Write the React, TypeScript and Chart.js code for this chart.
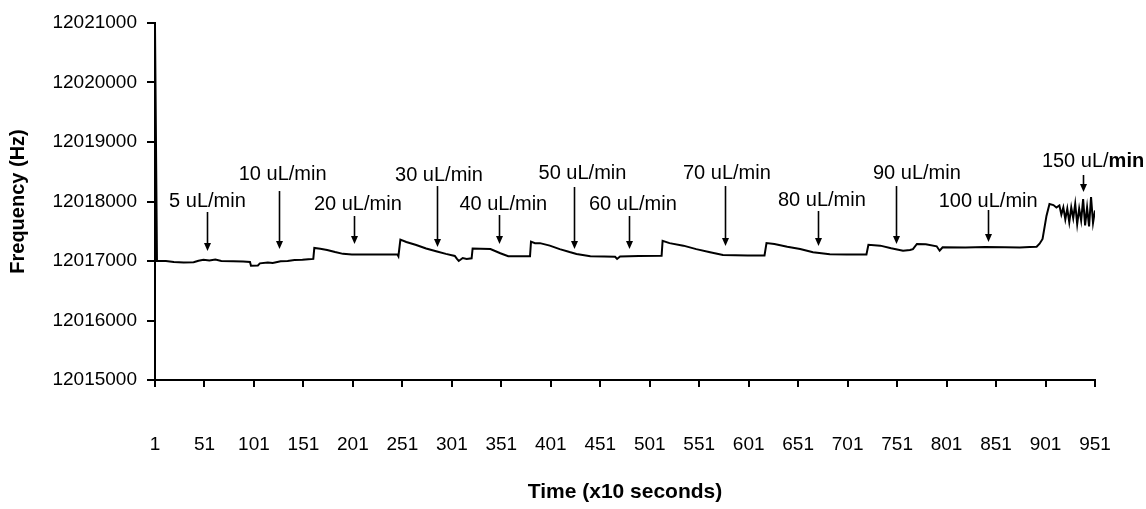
import React, { useEffect, useRef } from "react";
import { Chart, registerables } from "chart.js";

Chart.register(...registerables);

// Time (x10 s) samples
const timeX = [
  1, 3, 12, 20, 30, 40, 45, 50, 56, 62, 68, 80, 90, 97, 98, 105, 107, 115, 120, 128,
  135, 142, 150, 156, 161, 162, 168, 175, 183, 191, 200, 220, 246, 247, 249, 255, 265, 275, 286, 295,
  304, 306, 308, 312, 316, 321, 322, 330, 340, 350, 358, 370, 380, 381, 385, 390, 400, 410, 420, 427,
  441, 455, 466, 468, 471, 490, 513, 514, 521, 535, 548, 562, 575, 600, 617, 619, 627, 640, 653, 666,
  683, 700, 720, 722, 734, 745, 757, 764, 767, 771, 780, 791, 794, 797, 820, 840, 860, 875, 885, 892,
  895, 898, 902, 905, 909, 912, 915, 917, 919, 921, 923, 925, 927, 929, 931, 933, 935, 937, 939, 941,
  943, 945, 947, 949, 951,
];

// Frequency (Hz) values
const freqY = [
  12020950, 12017000, 12017000, 12016985, 12016975, 12016980, 12017005, 12017020, 12017010, 12017025,
  12017000, 12016995, 12016990, 12016985, 12016920, 12016925, 12016960, 12016975, 12016965, 12016995,
  12017000, 12017015, 12017020, 12017030, 12017035, 12017220, 12017205, 12017185, 12017150, 12017120,
  12017110, 12017110, 12017110, 12017080, 12017360, 12017320, 12017270, 12017210, 12017160, 12017120,
  12017085, 12017040, 12017000, 12017050, 12017035, 12017045, 12017210, 12017205, 12017200, 12017130,
  12017080, 12017080, 12017080, 12017325, 12017300, 12017300, 12017258, 12017200, 12017150, 12017118,
  12017080, 12017075, 12017070, 12017035, 12017075, 12017085, 12017090, 12017340, 12017300, 12017258,
  12017200, 12017146, 12017100, 12017092, 12017092, 12017302, 12017285, 12017240, 12017200, 12017146,
  12017112, 12017110, 12017110, 12017274, 12017258, 12017215, 12017173, 12017185, 12017200, 12017286,
  12017280, 12017247, 12017173, 12017230, 12017225, 12017235, 12017230, 12017225, 12017235, 12017240,
  12017290, 12017370, 12017762, 12017958, 12017940, 12017900, 12017935, 12017780, 12017900, 12017700,
  12017880, 12017650, 12017900, 12017720, 12017960, 12017620, 12017880, 12017680, 12018040, 12017600,
  12017900, 12017580, 12018075, 12017640, 12017850,
];

const xTickValues = [1, 51, 101, 151, 201, 251, 301, 351, 401, 451, 501, 551, 601, 651, 701, 751, 801, 851, 901, 951];
const yMin = 12015000;
const yMax = 12021000;
const yStep = 1000;

// Flow-rate annotations
const flowText = ["5 uL/min", "10 uL/min", "20 uL/min", "30 uL/min", "40 uL/min", "50 uL/min", "60 uL/min", "70 uL/min", "80 uL/min", "90 uL/min", "100 uL/min", "150 uL/"];
const flowBold = ["", "", "", "", "", "", "", "", "", "", "", "min"];
const arrowAt = [54, 126, 202, 286, 349, 424, 480, 577, 671, 750, 843, 939];
const arrowFrom = [12017824, 12018176, 12017756, 12018260, 12017773, 12018244, 12017756, 12018260, 12017840, 12018260, 12017857, 12018445];
const arrowTo = [12017168, 12017200, 12017286, 12017235, 12017286, 12017200, 12017200, 12017252, 12017252, 12017286, 12017319, 12018160];
const textAt = [54, 130, 206, 288, 353, 433, 484, 579, 675, 771, 843, 949];
const textLevel = [12017992, 12018462, 12017958, 12018429, 12017958, 12018479, 12017958, 12018479, 12018025, 12018479, 12018008, 12018680];

const FONT = '"Liberation Sans", Arial, Helvetica, sans-serif';

const annotationPlugin = {
  id: "flowAnnotations",
  afterDatasetsDraw(chart: any) {
    const { ctx, scales } = chart;
    const xs = scales.x;
    const ys = scales.y;
    ctx.save();
    ctx.fillStyle = "#000";
    ctx.strokeStyle = "#000";
    ctx.lineWidth = 1.6;
    flowText.forEach((t, i) => {
      const ax = Math.round(xs.getPixelForValue(arrowAt[i])) + 0.5;
      const y1 = ys.getPixelForValue(arrowFrom[i]);
      const y2 = ys.getPixelForValue(arrowTo[i]);
      ctx.beginPath();
      ctx.moveTo(ax, y1);
      ctx.lineTo(ax, y2 - 6);
      ctx.stroke();
      ctx.beginPath();
      ctx.moveTo(ax - 3.5, y2 - 8);
      ctx.lineTo(ax + 3.5, y2 - 8);
      ctx.lineTo(ax, y2);
      ctx.closePath();
      ctx.fill();

      const tx = xs.getPixelForValue(textAt[i]);
      const ty = ys.getPixelForValue(textLevel[i]);
      ctx.textBaseline = "middle";
      ctx.textAlign = "left";
      ctx.font = `20px ${FONT}`;
      const w1 = ctx.measureText(t).width;
      ctx.font = `bold 20px ${FONT}`;
      const w2 = flowBold[i] ? ctx.measureText(flowBold[i]).width : 0;
      const start = tx - (w1 + w2) / 2;
      ctx.font = `20px ${FONT}`;
      ctx.fillText(t, start, ty);
      if (flowBold[i]) {
        ctx.font = `bold 20px ${FONT}`;
        ctx.fillText(flowBold[i], start + w1, ty);
      }
    });
    ctx.restore();
  },
};

export default function App() {
  const ref = useRef<HTMLCanvasElement | null>(null);

  useEffect(() => {
    if (!ref.current) return;
    const points = timeX.map((x, i) => ({ x, y: freqY[i] }));
    const chart = new Chart(ref.current, {
      type: "line",
      data: {
        datasets: [
          {
            data: points,
            borderColor: "#000",
            borderWidth: 2,
            pointRadius: 0,
            tension: 0,
            fill: false,
          },
        ],
      },
      options: {
        animation: false,
        responsive: false,
        maintainAspectRatio: false,
        layout: { padding: { top: 23, right: 51, bottom: 0, left: 0 } },
        plugins: { legend: { display: false }, tooltip: { enabled: false } },
        scales: {
          x: {
            type: "linear",
            min: 1,
            max: 951,
            afterBuildTicks: (s: any) => {
              s.ticks = xTickValues.map((v) => ({ value: v }));
            },
            afterFit: (s: any) => {
              s.height = 129;
              s.paddingLeft = 0;
              s.paddingRight = 0;
            },
            grid: { drawOnChartArea: false, drawTicks: true, tickLength: 7, color: "#000", lineWidth: 2 },
            border: { display: true, color: "#000", width: 2 },
            ticks: {
              autoSkip: false,
              maxRotation: 0,
              padding: 46,
              color: "#000",
              font: { family: FONT, size: 19 },
              callback: (v: any) => String(v),
            },
            title: {
              display: true,
              text: "Time (x10 seconds)",
              color: "#000",
              font: { family: FONT, size: 21, weight: "bold", lineHeight: 1 },
              padding: { top: 0, bottom: 6 },
            },
          },
          y: {
            type: "linear",
            min: yMin,
            max: yMax,
            afterFit: (s: any) => {
              s.width = 155;
            },
            grid: { drawOnChartArea: false, drawTicks: true, tickLength: 8, color: "#000", lineWidth: 2 },
            border: { display: true, color: "#000", width: 2 },
            ticks: {
              stepSize: yStep,
              padding: 10,
              color: "#000",
              font: { family: FONT, size: 19 },
              callback: (v: any) => String(v),
            },
            title: {
              display: true,
              text: "Frequency (Hz)",
              color: "#000",
              font: { family: FONT, size: 20, weight: "bold", lineHeight: 1 },
              padding: { top: 8, bottom: 0 },
            },
          },
        },
      },
      plugins: [annotationPlugin],
    });
    return () => chart.destroy();
  }, []);

  return (
    <div style={{ position: "absolute", left: 0, top: 0, width: 1146, height: 509, background: "#fff" }}>
      <canvas ref={ref} width={1146} height={509} style={{ width: 1146, height: 509, display: "block" }} />
    </div>
  );
}
